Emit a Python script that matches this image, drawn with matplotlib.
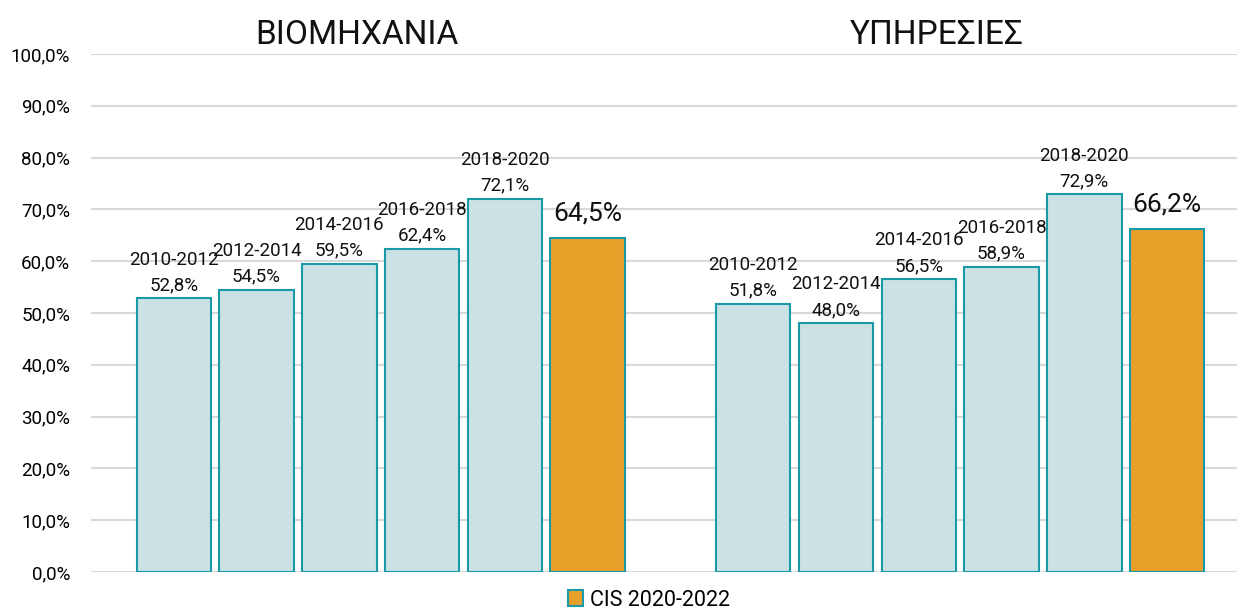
import matplotlib
matplotlib.use("Agg")
import matplotlib.pyplot as plt
from matplotlib.patches import Patch

# data
sectors = ["ΒΙΟΜΗΧΑΝΙΑ", "ΥΠΗΡΕΣΙΕΣ"]
periods = ["2010-2012", "2012-2014", "2014-2016", "2016-2018", "2018-2020", "CIS 2020-2022"]
industry = [52.8, 54.5, 59.5, 62.4, 72.1, 64.5]
services = [51.8, 48.0, 56.5, 58.9, 72.9, 66.2]
yticks = [0, 10, 20, 30, 40, 50, 60, 70, 80, 90, 100]

plt.rcParams['font.family'] = ['Roboto', 'DejaVu Sans']

light = "#CAE2E4"
edge = "#1A9AA8"
orange = "#E8A02A"

W, H = 1237, 609
fig = plt.figure(figsize=(W / 100, H / 100), dpi=100)
ax = fig.add_axes([91 / W, 1 - 572 / H, (W - 91) / W, 518 / H])

for g, vals in enumerate([industry, services]):
    for i, v in enumerate(vals):
        x = g * 7 + i
        last = i == len(vals) - 1
        ax.bar(x, v, width=0.9, color=orange if last else light,
               edgecolor=edge, linewidth=1.5, zorder=3)
        if last:
            ax.annotate(f"{v:.1f}%".replace(".", ","), (x, v), xytext=(0, 9),
                        textcoords="offset points", ha="center", va="bottom",
                        fontsize=19, color="#111111")
        else:
            ax.annotate(f"{periods[i]}\n{v:.1f}%".replace(".", ","), (x, v),
                        xytext=(0, 3), textcoords="offset points",
                        ha="center", va="bottom", fontsize=13.5,
                        linespacing=1.55, color="#111111")

# sector titles (sit a little left of the group centre, as in the source)
for g, name in enumerate(sectors):
    ax.annotate(name, (g * 7 + 2.5, 1.0), xycoords=ax.get_xaxis_transform(),
                xytext=(-17, 2), textcoords="offset points",
                ha="center", va="bottom", fontsize=24, color="#111111")

ax.set_xlim(-1.0, (W - 173.5) / 82.8)
ax.set_ylim(0, 100)
ax.set_yticks(yticks)
ax.set_yticklabels([f"{t:.1f}%".replace(".", ",") for t in yticks], fontsize=13.5)
ax.tick_params(axis="y", length=0, pad=15)
ax.set_xticks([])
ax.grid(axis="y", color="#D9D9D9", linewidth=1.5, zorder=0)
for s in ax.spines.values():
    s.set_visible(False)

handle = Patch(facecolor=orange, edgecolor=edge, linewidth=1.5, label=periods[-1])
fig.legend(handles=[handle], loc="center", bbox_to_anchor=(649 / W, 1 - 600 / H),
           frameon=False, fontsize=15.5, handlelength=0.7, handleheight=0.7,
           handletextpad=0.3)

fig.savefig("out.png", dpi=100)
